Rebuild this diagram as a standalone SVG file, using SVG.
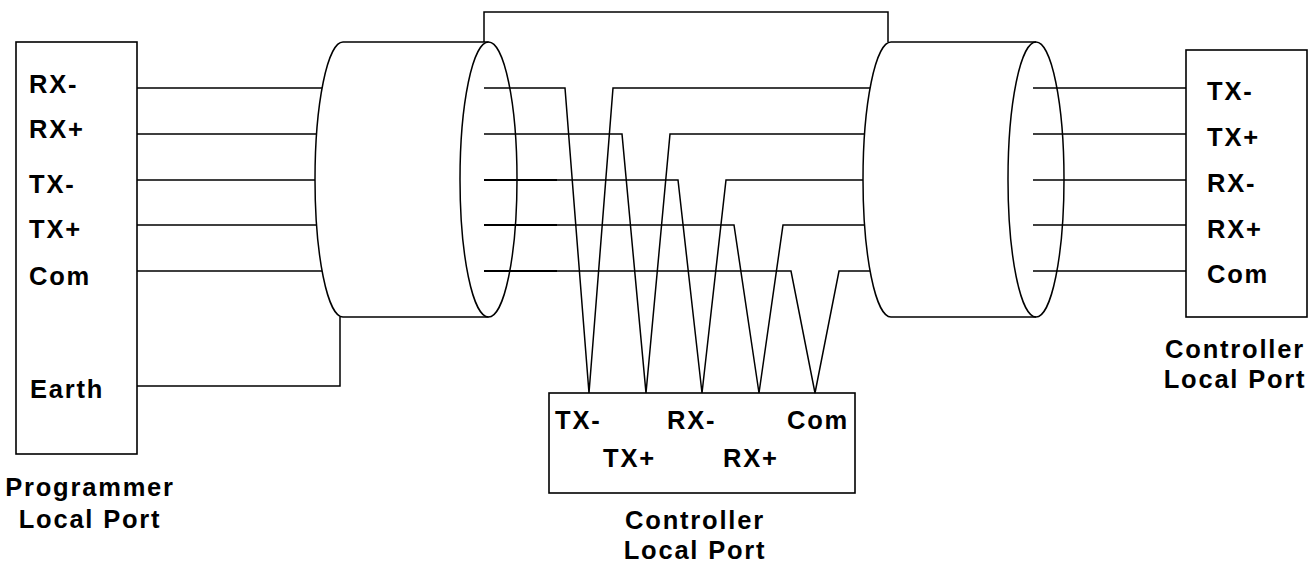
<svg xmlns="http://www.w3.org/2000/svg" width="1312" height="563" viewBox="0 0 1312 563">
<style>
.ln{fill:none;stroke:#000;stroke-width:1.5;stroke-linejoin:miter}
.bx{fill:none;stroke:#000;stroke-width:1.6}
.t{font-family:"Liberation Sans",Arial,sans-serif;font-weight:bold;font-size:25.5px;letter-spacing:1.8px;fill:#000}
.c{text-anchor:middle}
</style>
<rect width="1312" height="563" fill="#fff"/>
<g id="connectors" class="ln">
<path d="M137 88H322M137 134H316.6M137 180H315M137 225H316.6M137 271H322"/>
<path d="M137 386H340V317"/>
<path d="M484 42V12H888V42"/>
<path d="M484 88H565L589 393L613 88H870"/>
<path d="M484 134H622L646 393L670 134H864.6"/>
<path d="M484 180H678L702 393L726 180H863"/>
<path d="M484 225H734L759 393L783 225H864.6"/>
<path d="M484 271H791L815 393L839 271H870"/>
<path d="M484 180H557M484 225H557M484 271H557" stroke-width="2"/>
<path d="M1033 88H1186M1033 134H1186M1033 180H1186M1033 225H1186M1033 271H1186"/>
</g>
<g id="programmer-port">
<rect class="bx" x="16" y="42" width="121" height="412"/>
<text class="t" x="29" y="93">RX-</text>
<text class="t" x="29" y="138">RX+</text>
<text class="t" x="29" y="193">TX-</text>
<text class="t" x="29" y="238">TX+</text>
<text class="t" x="29" y="285">Com</text>
<text class="t" x="30" y="398">Earth</text>
<text class="t c" x="90" y="496">Programmer</text>
<text class="t c" x="90" y="528">Local Port</text>
</g>
<g id="cable-1" class="ln">
<path d="M343 42A28 137.5 0 0 0 343 317"/>
<path d="M343 42H488.5M343 317H488.5"/>
<ellipse cx="488.5" cy="179.5" rx="28.5" ry="137.5"/>
</g>
<g id="cable-2" class="ln">
<path d="M891 42A28 137.5 0 0 0 891 317"/>
<path d="M891 42H1036M891 317H1036"/>
<ellipse cx="1036" cy="179.5" rx="28" ry="137.5"/>
</g>
<g id="controller-port-right">
<rect class="bx" x="1186" y="50" width="121" height="267"/>
<text class="t" x="1207" y="100">TX-</text>
<text class="t" x="1207" y="146">TX+</text>
<text class="t" x="1207" y="192">RX-</text>
<text class="t" x="1207" y="238">RX+</text>
<text class="t" x="1207" y="283">Com</text>
<text class="t c" x="1235" y="358">Controller</text>
<text class="t c" x="1235" y="388">Local Port</text>
</g>
<g id="controller-port-bottom">
<rect class="bx" x="549" y="393" width="306" height="100"/>
<text class="t" x="555" y="429">TX-</text>
<text class="t" x="667" y="429">RX-</text>
<text class="t" x="787" y="429">Com</text>
<text class="t" x="603" y="467">TX+</text>
<text class="t" x="723" y="467">RX+</text>
<text class="t c" x="695" y="529">Controller</text>
<text class="t c" x="695" y="559">Local Port</text>
</g>
</svg>
